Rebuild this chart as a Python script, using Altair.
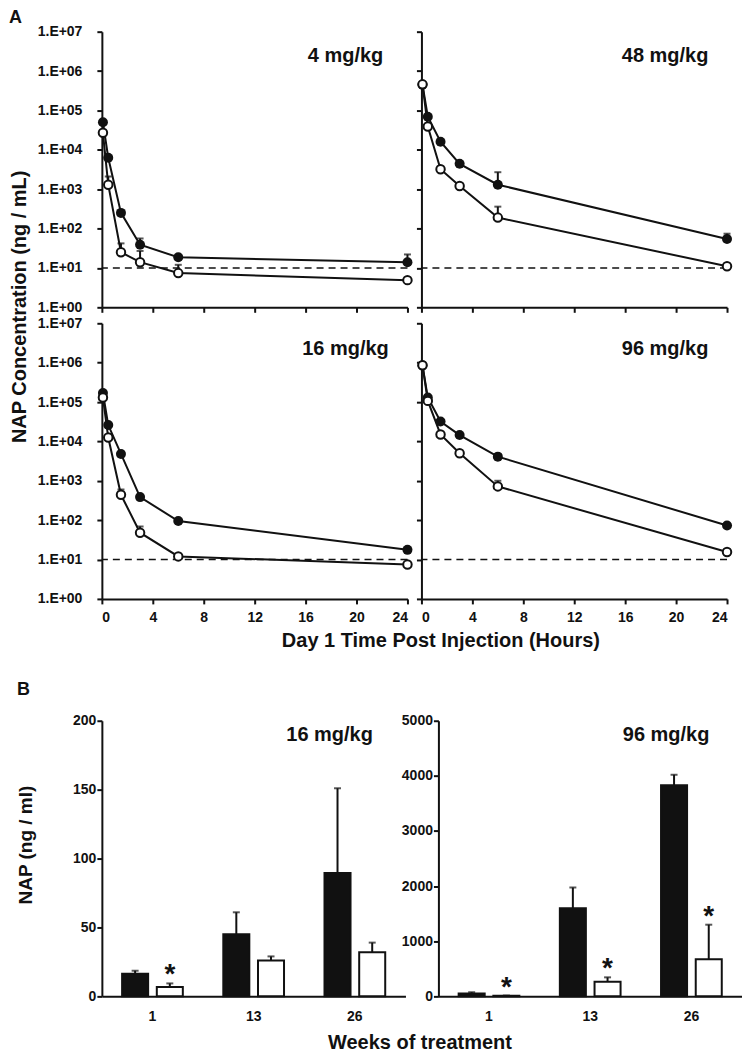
import altair as alt
import pandas as pd

FONT = "Liberation Sans"
INK = "#111111"

# ---------------- Panel A data (Day 1 PK, log scale) ----------------
times = [0.083, 0.5, 1.5, 3, 6, 24]
x_ticks = [0, 4, 8, 12, 16, 20, 24]
y_ticks = [1, 10, 100, 1000, 10000, 100000, 1000000, 10000000]

c4_filled = [5.0e4, 6.3e3, 250, 39, 18.6, 14]
c4_filled_err = [None, None, None, 56, None, 22]
c4_open = [2.7e4, 1.3e3, 25, 14, 7.4, 4.9]
c4_open_err = [None, 2.1e3, 42, 27, 12, None]

c48_filled = [4.5e5, 6.9e4, 1.6e4, 4.4e3, 1.3e3, 54]
c48_filled_err = [None, None, None, None, 2.7e3, 74]
c48_open = [4.6e5, 3.9e4, 3.2e3, 1.2e3, 190, 11]
c48_open_err = [None, None, None, 1.4e3, 360, None]

c16_filled = [1.7e5, 2.6e4, 4.8e3, 385, 95, 17.6]
c16_filled_err = [None, None, None, None, 105, None]
c16_open = [1.3e5, 1.26e4, 440, 48, 12, 7.5]
c16_open_err = [None, None, 600, 69, None, None]

c96_filled = [8.5e5, 1.3e5, 3.2e4, 1.45e4, 4.1e3, 73]
c96_filled_err = [None, None, None, None, 4.8e3, None]
c96_open = [8.6e5, 1.07e5, 1.5e4, 5.0e3, 720, 15.5]
c96_open_err = [None, None, None, None, 1.0e3, None]

lloq = [10]

# ---------------- Panel B data (weekly trough levels) ----------------
weeks = ["1", "13", "26"]
b16_filled = [16.5, 45, 89.5]
b16_filled_err = [18.6, 61, 151]
b16_open = [6.8, 26, 32]
b16_open_err = [9.4, 29, 39]
b16_star = [True, False, False]

b96_filled = [50, 1600, 3830]
b96_filled_err = [75, 1975, 4020]
b96_open = [10, 265, 675]
b96_open_err = [15, 345, 1300]
b96_star = [True, True, True]

WA = 306
WB = 304
H = 276


def corner_label(text, x, y):
    return alt.Chart(pd.DataFrame({"label": [text]})).mark_text(
        font=FONT, fontSize=18, fontWeight="bold", color=INK, align="left", baseline="middle"
    ).encode(text="label:N", x=alt.value(x), y=alt.value(y))


def pk_df(filled, filled_err, open_, open_err):
    rows = []
    for t, v, e in zip(times, filled, filled_err):
        rows.append({"t": t, "v": v, "err": e, "series": "filled"})
    for t, v, e in zip(times, open_, open_err):
        rows.append({"t": t, "v": v, "err": e, "series": "open"})
    return pd.DataFrame(rows)


def pk_panel(df, label, show_x, show_y, xtitle=False, ytitle=False, label_y=25, corner=None):
    xaxis = dict(values=x_ticks, labels=show_x, labelPadding=7, title=None)
    if xtitle:
        xaxis.update(title="Day 1 Time Post Injection (Hours)", titleX=339, titlePadding=6)
    yaxis = dict(values=y_ticks, labels=show_y, labelPadding=15, title=None,
                 labelExpr="'1.E+0' + round(log(datum.value) / LN10)")
    if ytitle:
        yaxis.update(title="NAP Concentration (ng / mL)", titleY=-17, titlePadding=8)
    yscale = alt.Scale(type="log", domain=[1, 1e7], nice=False)
    x = alt.X("t:Q", scale=alt.Scale(domain=[0, 24], nice=False, zero=False), axis=alt.Axis(**xaxis))
    y = alt.Y("v:Q", scale=yscale, axis=alt.Axis(**yaxis))

    base = alt.Chart(df)
    dash = alt.Chart(pd.DataFrame({"lloq": lloq})).mark_rule(
        color=INK, strokeWidth=1.6, strokeDash=[7, 5]
    ).encode(y=alt.Y("lloq:Q", scale=yscale))
    lines = base.mark_line(color=INK, strokeWidth=2).encode(x=x, y=y, detail="series:N")
    errs = base.transform_filter("isValid(datum.err)").mark_rule(color=INK, strokeWidth=2).encode(
        x="t:Q", y="v:Q", y2="err:Q")
    caps = base.transform_filter("isValid(datum.err)").mark_tick(
        color=INK, orient="horizontal", size=7, thickness=2).encode(x="t:Q", y="err:Q")
    filled_pts = base.transform_filter("datum.series == 'filled'").mark_circle(
        size=100, color=INK, opacity=1).encode(x="t:Q", y="v:Q")
    open_pts = base.transform_filter("datum.series == 'open'").mark_circle(
        size=72, fill="white", stroke=INK, strokeWidth=2, opacity=1).encode(x="t:Q", y="v:Q")
    lab = alt.Chart(pd.DataFrame({"label": [label]})).mark_text(
        font=FONT, fontSize=20, fontWeight="bold", color=INK, align="center", baseline="middle"
    ).encode(text="label:N", x=alt.value(244), y=alt.value(label_y))
    layers = [dash, lines, errs, caps, filled_pts, open_pts, lab]
    if corner is not None:
        layers.append(corner_label(*corner))
    return alt.layer(*layers).properties(width=WA, height=H)


def bar_panel(filled, filled_err, open_, open_err, star, label, ymax, yvals,
              ytitle=False, xtitle=False, corner=None):
    rows = []
    for w, v, e in zip(weeks, filled, filled_err):
        rows.append({"week": w, "v": v, "err": e, "series": "filled", "star": False})
    for w, v, e, s in zip(weeks, open_, open_err, star):
        rows.append({"week": w, "v": v, "err": e, "series": "open", "star": s})
    df = pd.DataFrame(rows)

    xaxis = dict(labelAngle=0, ticks=False, labelPadding=13, title=None)
    if xtitle:
        xaxis.update(title="Weeks of treatment", titleX=318, titlePadding=9)
    yaxis = dict(values=yvals, labelPadding=1, title=None, format="d")
    if ytitle:
        yaxis.update(title="NAP (ng / ml)", titleY=124, titlePadding=37, titleFontSize=19)

    x = alt.X("week:N", sort=weeks, scale=alt.Scale(paddingInner=0.4, paddingOuter=0.2), axis=alt.Axis(**xaxis))
    xo = alt.XOffset("series:N", scale=alt.Scale(paddingInner=0.25, paddingOuter=0))
    y = alt.Y("v:Q", scale=alt.Scale(domain=[0, ymax], nice=False), axis=alt.Axis(**yaxis))

    base = alt.Chart(df)
    errs = base.mark_rule(color=INK, strokeWidth=2).encode(x=x, xOffset=xo, y="v:Q", y2="err:Q")
    caps = base.mark_tick(color=INK, orient="horizontal", size=7, thickness=2).encode(
        x=x, xOffset=xo, y="err:Q")
    bars = base.mark_bar(stroke=INK, strokeWidth=2).encode(
        x=x, xOffset=xo, y=y,
        fill=alt.Fill("series:N", scale=alt.Scale(domain=["filled", "open"], range=[INK, "white"]), legend=None))
    stars = base.transform_filter("datum.star").mark_text(
        text="*", font=FONT, fontSize=28, fontWeight="bold", color=INK, baseline="middle", dy=-8
    ).encode(x=x, xOffset=xo, y="err:Q")
    lab = alt.Chart(pd.DataFrame({"label": [label]})).mark_text(
        font=FONT, fontSize=20, fontWeight="bold", color=INK, align="center", baseline="middle"
    ).encode(text="label:N", x=alt.value(228), y=alt.value(14))
    layers = [errs, caps, bars, stars, lab]
    if corner is not None:
        layers.append(corner_label(*corner))
    return alt.layer(*layers).properties(width=WB, height=H)


tl = pk_panel(pk_df(c4_filled, c4_filled_err, c4_open, c4_open_err), "4 mg/kg", False, True,
              label_y=24, corner=("A", -93, -14))
tr = pk_panel(pk_df(c48_filled, c48_filled_err, c48_open, c48_open_err), "48 mg/kg", False, False, label_y=24)
bl = pk_panel(pk_df(c16_filled, c16_filled_err, c16_open, c16_open_err), "16 mg/kg", True, True,
              xtitle=True, ytitle=True, label_y=26)
br = pk_panel(pk_df(c96_filled, c96_filled_err, c96_open, c96_open_err), "96 mg/kg", True, False, label_y=26)

panel_a = alt.concat(tl, tr, bl, br, columns=2, spacing={"row": 16, "column": 14}, bounds="flush")

b_left = bar_panel(b16_filled, b16_filled_err, b16_open, b16_open_err, b16_star, "16 mg/kg", 200,
                   [0, 50, 100, 150, 200], ytitle=True, xtitle=True, corner=("B", -85, -31))
b_right = bar_panel(b96_filled, b96_filled_err, b96_open, b96_open_err, b96_star, "96 mg/kg", 5000,
                    [0, 1000, 2000, 3000, 4000, 5000])

panel_b = alt.concat(b_left, b_right, columns=2, spacing={"row": 10, "column": 33}, bounds="flush")

chart = alt.concat(panel_a, panel_b, columns=1, spacing=30, align="none").properties(
    padding={"left": 1, "top": 0, "right": 0, "bottom": 0}
).configure_view(stroke=None).configure_axis(
    domainColor=INK, domainWidth=2, tickColor=INK, tickWidth=2, tickSize=5, grid=False,
    labelFont=FONT, labelFontSize=14, labelFontWeight="bold", labelColor=INK,
    titleFont=FONT, titleFontSize=20, titleFontWeight="bold", titleColor=INK,
)

chart.save("out.html", embed_options={"renderer": "svg", "actions": False})
